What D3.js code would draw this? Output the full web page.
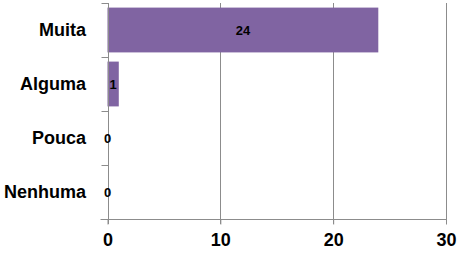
<!DOCTYPE html>
<html><head><meta charset="utf-8">
<script src="https://cdn.jsdelivr.net/npm/d3@7"></script>
<style>body{margin:0;background:#fff}svg{display:block}</style>
</head><body>
<script>
const categories = ["Muita", "Alguma", "Pouca", "Nenhuma"];
const values = [24, 1, 0, 0];
const xTicks = [0, 10, 20, 30];

const W = 460, H = 257;
const m = {left: 107.5, right: 14, top: 3, bottom: 38};
const svg = d3.select("body").append("svg").attr("width", W).attr("height", H);
const x = d3.scaleLinear().domain([0, 30]).range([m.left, W - m.right]);
const y = d3.scaleBand().domain(categories).range([m.top, H - m.bottom]).paddingInner(0.17).paddingOuter(0.085);
const yb = d3.scaleBand().domain(categories).range([m.top, H - m.bottom]);
const font = "'Liberation Sans', Arial, sans-serif";
const grid = "#8c8c8c";

// vertical gridlines
svg.append("g").selectAll("line").data(xTicks.slice(1)).join("line")
  .attr("x1", d => Math.round(x(d)) + 0.5).attr("x2", d => Math.round(x(d)) + 0.5)
  .attr("y1", m.top).attr("y2", H - m.bottom + 5)
  .attr("stroke", grid).attr("stroke-width", 1);

// bars
svg.append("g").selectAll("rect").data(values).join("rect")
  .attr("x", x(0)).attr("y", (d, i) => y(categories[i]))
  .attr("width", d => x(d) - x(0)).attr("height", y.bandwidth())
  .attr("fill", "#8064A2");

// bottom axis
const xAxis = svg.append("g").attr("transform", `translate(0,${Math.round(H - m.bottom) + 0.5})`)
  .call(d3.axisBottom(x).tickValues(xTicks).tickSize(5).tickPadding(9).tickSizeOuter(0));
xAxis.select(".domain").attr("stroke", grid).attr("d", `M${m.left - 7},0H${x(30)}`);
xAxis.selectAll(".tick line").attr("stroke", grid);
xAxis.selectAll(".tick text").attr("fill", "#000").attr("font-family", font)
  .attr("font-weight", "bold").attr("font-size", "18px");

// left axis
const yAxis = svg.append("g").attr("transform", `translate(${Math.round(m.left) + 0.5},0)`);
yAxis.append("line").attr("x1", 0).attr("x2", 0).attr("y1", m.top).attr("y2", H - m.bottom + 5).attr("stroke", grid);
const bounds = categories.map(c => yb(c)).concat([H - m.bottom]);
yAxis.selectAll("line.tk").data(bounds.slice(0, -1)).join("line").attr("class", "tk")
  .attr("x1", -7).attr("x2", 0).attr("y1", d => Math.round(d) + 0.5).attr("y2", d => Math.round(d) + 0.5)
  .attr("stroke", grid);
svg.append("g").selectAll("text").data(categories).join("text")
  .attr("x", 86).attr("y", d => yb(d) + yb.bandwidth() / 2)
  .attr("dy", "0.35em").attr("text-anchor", "end")
  .attr("font-family", font).attr("font-weight", "bold").attr("font-size", "18px")
  .text(d => d);

// data labels
svg.append("g").selectAll("text").data(values).join("text")
  .attr("x", d => (x(d) + x(0)) / 2).attr("y", (d, i) => yb(categories[i]) + yb.bandwidth() / 2)
  .attr("dy", "0.35em").attr("text-anchor", "middle")
  .attr("font-family", font).attr("font-weight", "bold").attr("font-size", "13px")
  .text(d => d);
</script>
</body></html>
